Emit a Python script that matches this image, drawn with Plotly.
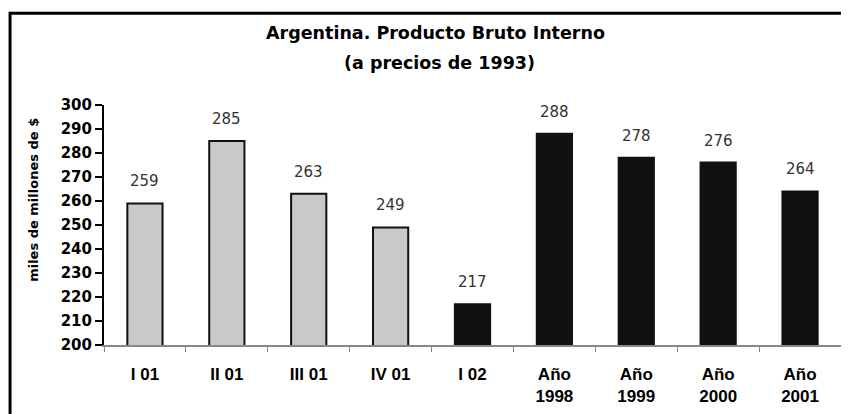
import plotly.graph_objects as go

categorias = ["I 01", "II 01", "III 01", "IV 01", "I 02",
              "Año<br>1998", "Año<br>1999", "Año<br>2000", "Año<br>2001"]
pbi = [259, 285, 263, 249, 217, 288, 278, 276, 264]
colores = ["#c9c9c9"] * 4 + ["#111111"] * 5

# la pagina agrega 8px de margen al body
OFF = 8
W, H = 849 - OFF, 414 - OFF
L, R, T, B = 104 - OFF, 7.5, 105 - OFF, 66
pw = W - L - R
ph = H - T - B

def px(x):
    return (x - OFF - L) / pw

def py(y):
    return (H - B - (y - OFF)) / ph

fig = go.Figure(go.Bar(
    x=categorias,
    y=pbi,
    marker=dict(color=colores, line=dict(color="#111111", width=2)),
    width=0.43,
    hoverinfo="x+y",
))

for c, v in zip(categorias, pbi):
    fig.add_annotation(x=c, y=v, yshift=22, showarrow=False, text=str(v),
                       font=dict(family="DejaVu Sans", size=15, color="#333333"))

fig.update_layout(
    width=W, height=H,
    margin=dict(l=L, r=R, t=T, b=B),
    paper_bgcolor="white", plot_bgcolor="white",
    showlegend=False,
    font=dict(family="Liberation Sans", color="#000000"),
    xaxis=dict(
        showline=True, linecolor="#888888", linewidth=1.5,
        ticks="outside", tickson="boundaries", ticklen=5, tickcolor="#888888",
        tickfont=dict(size=17, family="Liberation Sans", weight="bold"),
        ticklabelstandoff=13,
        showgrid=False,
    ),
    yaxis=dict(
        range=[200, 300], dtick=10,
        showline=True, linecolor="#000000", linewidth=2,
        ticks="outside", ticklen=7, tickcolor="#000000", tickwidth=2,
        tickfont=dict(size=15, family="DejaVu Sans", weight="bold"),
        showgrid=False, zeroline=False,
    ),
    bargap=0.57,
)

fig.add_annotation(x=px(436), y=py(32), xref="paper", yref="paper", showarrow=False,
                   xanchor="center", yanchor="middle",
                   text="<b>Argentina. Producto Bruto Interno</b>",
                   font=dict(size=17.5, family="DejaVu Sans"))
fig.add_annotation(x=px(440), y=py(62), xref="paper", yref="paper", showarrow=False,
                   xanchor="center", yanchor="middle",
                   text="<b>(a precios de 1993)</b>",
                   font=dict(size=17.5, family="DejaVu Sans"))
fig.add_annotation(x=px(34), y=py(201), xref="paper", yref="paper", showarrow=False,
                   xanchor="center", yanchor="middle", textangle=-90,
                   text="<b>miles de millones de $</b>",
                   font=dict(size=13, family="DejaVu Sans"))

# marco del grafico
fig.add_shape(type="rect", xref="paper", yref="paper",
              x0=px(10), x1=px(845), y0=py(430), y1=py(12),
              line=dict(color="#000000", width=3))

fig.write_html("out.html")
